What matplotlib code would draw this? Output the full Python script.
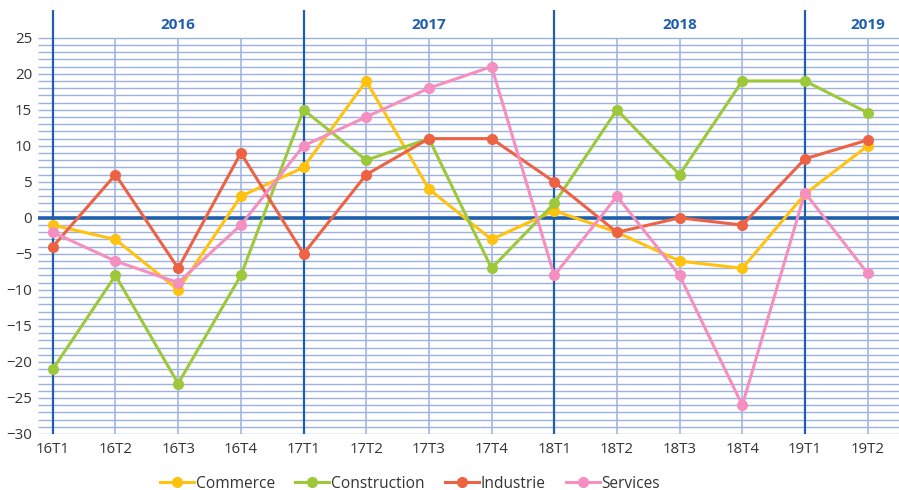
import numpy as np
import matplotlib.pyplot as plt
from matplotlib.lines import Line2D

plt.rcParams['font.family'] = ['Open Sans', 'DejaVu Sans']

# =========================
# DATA
# =========================
quarters = ["16T1", "16T2", "16T3", "16T4", "17T1", "17T2", "17T3", "17T4",
            "18T1", "18T2", "18T3", "18T4", "19T1", "19T2"]
years = ["2016", "2017", "2018", "2019"]
year_pos = [2, 6, 10, 13]

commerce = [-1, -3, -10, 3, 7, 19, 4, -3, 1, -2, -6, -7, 3.3, 10]
construction = [-21, -8, -23, -8, 15, 8, 11, -7, 2, 15, 6, 19, 19, 14.6]
industrie = [-4, 6, -7, 9, -5, 6, 11, 11, 5, -2, 0, -1, 8.2, 10.8]
services = [-2, -6, -9, -1, 10, 14, 18, 21, -8, 3, -8, -26, 3.5, -7.7]

series = [("Commerce", commerce, "#FFC20E"),
          ("Construction", construction, "#9DC83A"),
          ("Industrie", industrie, "#EE6244"),
          ("Services", services, "#F48FC0")]

grid_c = "#9DB1E0"
dark_c = "#1F5FAD"

# =========================
# FIGURE
# =========================
fig = plt.figure(figsize=(8.99, 4.9), dpi=100)
ax = fig.add_axes([0.042, 0.1143, 0.958, 0.866])

x = np.arange(len(quarters))
xmin, xmax = -0.24, 13.5
ymin, ymax = -30, 28.9

# horizontal grid every unit, only up to 25
ax.hlines(np.arange(-30, 26), xmin, xmax, color=grid_c, lw=1.0, zorder=1)
# vertical grid
for i in x:
    if i % 4 == 0:
        ax.vlines(i, ymin, ymax, color=dark_c, lw=1.6, zorder=2)
    else:
        ax.vlines(i, ymin, 25, color=grid_c, lw=1.1, zorder=1)
# zero line
ax.hlines(0, xmin, xmax, color=dark_c, lw=2.6, zorder=2)

for name, vals, col in series:
    ax.plot(x, vals, color=col, lw=2.2, marker="o", markersize=7,
            label=name, zorder=3)

for yr, p in zip(years, year_pos):
    ax.text(p, 26.8, yr, ha="center", va="center", color=dark_c,
            fontsize=11, fontweight="bold")

ax.set_xlim(xmin, xmax)
ax.set_ylim(ymin, ymax)
ax.set_xticks(x)
ax.set_xticklabels(quarters)
ax.set_yticks(np.arange(-30, 26, 5))
ax.tick_params(length=0, labelsize=10.8, labelcolor="#333333")
ax.tick_params(axis="y", pad=4)
ax.tick_params(axis="x", pad=6)
for s in ax.spines.values():
    s.set_visible(False)

handles = [Line2D([0], [0], color=c, lw=2.2, marker="o", markersize=7)
           for _, _, c in series]
fig.legend(handles, [s[0] for s in series], loc="lower center",
           bbox_to_anchor=(0.456, -0.032), ncol=4, frameon=False,
           fontsize=11.2, handlelength=2.2, handletextpad=0.1,
           columnspacing=1.3, labelcolor="#333333")

fig.savefig("out.png", dpi=100)
